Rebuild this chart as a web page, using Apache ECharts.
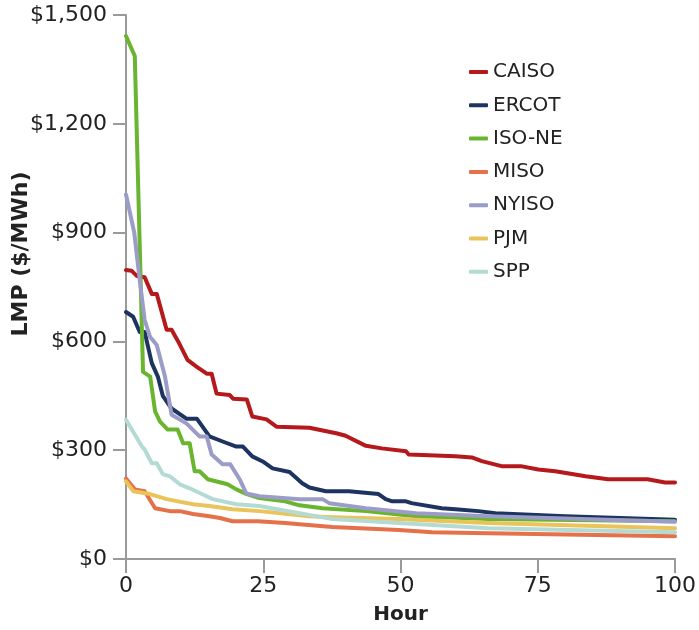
<!DOCTYPE html>
<html>
<head>
<meta charset="utf-8">
<script src="https://cdn.jsdelivr.net/npm/echarts@6/dist/echarts.min.js"></script>
<style>
  html, body { margin: 0; padding: 0; background: #ffffff; }
  #chart { width: 699px; height: 630px; }
</style>
</head>
<body>
<div id="chart"></div>
<script>
// ---- Data (hour, LMP $/MWh) ----
const seriesNames = ['CAISO', 'ERCOT', 'ISO-NE', 'MISO', 'NYISO', 'PJM', 'SPP'];
const seriesColors = ['#b5191b', '#1d3461', '#6ab530', '#e5714a', '#9b9cc8', '#eac45a', '#b3dbd3'];

const CAISO = [[0,797],[1,795],[2,780],[3.4,777],[4.7,731],[5.6,731],[7.4,632],[8.3,632],[9.5,600],[11.2,549],[12.9,530],[14.7,511],[15.6,511],[16.5,456],[18.9,452],[19.5,442],[22,440],[23,393],[25.6,385],[27.4,365],[33.4,362],[38.5,346],[40,340],[43.7,312],[46.6,305],[51,297],[51.5,288],[60,283],[63,280],[64.8,270],[68.4,256],[71.9,256],[75.1,247],[78.2,242],[83.7,228],[87.8,220],[95,220],[98.2,211],[100,211]];
const ERCOT = [[0,681],[1.3,668],[2.5,626],[3.4,626],[4.7,540],[5.8,503],[6.7,450],[8.3,415],[11,387],[12.9,387],[15.2,338],[17.6,324],[20.1,310],[21.3,310],[23,283],[24.9,269],[26.7,250],[29.8,240],[32.1,209],[33.4,197],[36.4,187],[40.6,187],[46,179],[47.3,165],[48.5,159],[51,159],[52,154],[57.5,140],[60,137],[64.2,132],[67.3,126],[80,118],[100,108]];
const ISONE = [[0,1442],[1.6,1387],[3.1,516],[4.4,503],[5.3,407],[6.2,379],[7.6,357],[9.4,357],[10.4,319],[11.6,319],[12.5,242],[13.4,242],[14.9,220],[18.5,206],[20.1,192],[22,179],[24.3,168],[29,159],[31.6,148],[35.8,140],[43.7,132],[52.8,118],[66,110],[100,104]];
const MISO = [[0,222],[1.6,192],[3.4,187],[5.3,140],[8,132],[9.8,132],[12.2,124],[15.2,118],[17.1,113],[19.4,104],[24,104],[29,99],[31.6,96],[37.6,88],[49.7,80],[55.8,74],[66,71],[100,63]];
const NYISO = [[0,1005],[1.5,900],[2.5,769],[3.4,659],[4.4,612],[5.6,590],[7.1,503],[8.3,398],[11,374],[13.4,338],[14.7,338],[15.6,288],[17.6,261],[19,261],[20.7,220],[21.9,181],[24.3,173],[31.6,165],[35.8,165],[37,154],[43.7,140],[52.8,126],[66,118],[100,103]];
const PJM = [[0,214],[1.3,187],[4.4,179],[7.4,165],[12.2,151],[15.2,146],[19.4,137],[24.3,132],[33.4,118],[37.6,115],[49.7,110],[66,99],[100,85]];
const SPP = [[0,384],[2.9,310],[3.4,302],[4.7,264],[5.6,264],[6.7,234],[8,228],[9.8,206],[11.6,195],[14,178],[15.8,165],[20.1,151],[24.3,146],[31.6,126],[37.6,110],[49.7,99],[66,85],[100,74]];

const seriesData = [CAISO, ERCOT, ISONE, MISO, NYISO, PJM, SPP];

const yTickValues = [0, 300, 600, 900, 1200, 1500];
const yTickLabels = ['$0', '$300', '$600', '$900', '$1,200', '$1,500'];
const xTickLabels = ['0', '25', '50', '75', '100'];

// ---- Chart ----
const FONT = 'DejaVu Sans';
const TEXT = '#222222';
const AXIS = '#9a9a9a';

const chart = echarts.init(document.getElementById('chart'), null, { renderer: 'canvas' });

const option = {
  backgroundColor: '#ffffff',
  animation: false,
  textStyle: { fontFamily: FONT },
  grid: { left: 126, right: 21, top: 15, bottom: 67, containLabel: false },
  legend: {
    orient: 'vertical',
    left: 469,
    top: 62,
    padding: 0,
    icon: 'roundRect',
    itemWidth: 19,
    itemHeight: 4,
    itemGap: 13.3,
    textStyle: { fontFamily: FONT, fontSize: 20, color: TEXT, lineHeight: 20 },
    data: seriesNames
  },
  xAxis: {
    type: 'value',
    min: 0, max: 100, interval: 25,
    name: 'Hour',
    nameLocation: 'middle',
    nameGap: 46,
    nameTextStyle: { fontFamily: FONT, fontSize: 20, fontWeight: 'bold', color: TEXT },
    axisLine: { show: true, lineStyle: { color: AXIS, width: 2 } },
    axisTick: { show: true, length: 14, lineStyle: { color: AXIS, width: 2 } },
    splitLine: { show: false },
    axisLabel: {
      fontFamily: FONT, fontSize: 22, color: TEXT, margin: 16,
      formatter: function (v) { return xTickLabels[Math.round(v / 25)]; }
    }
  },
  yAxis: {
    type: 'value',
    min: 0, max: 1500, interval: 300,
    axisLine: { show: true, lineStyle: { color: AXIS, width: 2 } },
    axisTick: { show: true, length: 13, lineStyle: { color: AXIS, width: 2 } },
    splitLine: { show: false },
    axisLabel: {
      fontFamily: FONT, fontSize: 22, color: TEXT, margin: 19,
      formatter: function (v) { return yTickLabels[yTickValues.indexOf(v)]; }
    }
  },
  graphic: [{
    type: 'text',
    x: 21, y: 254,
    rotation: Math.PI / 2,
    style: {
      text: 'LMP ($/MWh)',
      fontFamily: FONT, fontSize: 22, fontWeight: 'bold',
      fill: TEXT, align: 'center', verticalAlign: 'middle'
    }
  }],
  series: seriesNames.map(function (name, i) {
    return {
      name: name,
      type: 'line',
      data: seriesData[i],
      showSymbol: false,
      symbol: 'none',
      color: seriesColors[i],
      lineStyle: { width: 4, color: seriesColors[i], cap: 'round', join: 'round' },
      emphasis: { disabled: true }
    };
  })
};

chart.setOption(option);
</script>
</body>
</html>
